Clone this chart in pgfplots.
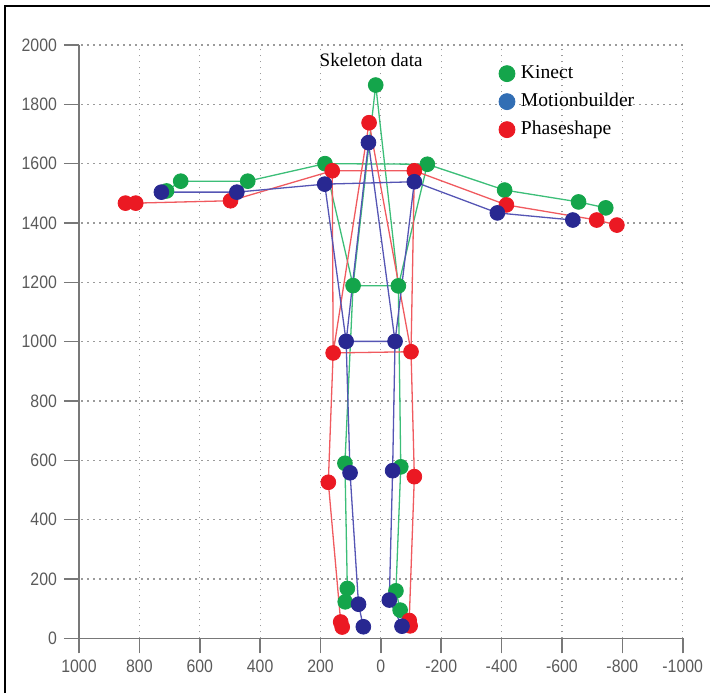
\documentclass[border=0pt]{standalone}
\usepackage{pgfplots}
\pgfplotsset{compat=1.18}
\usepackage{fontspec}
\setmainfont{Liberation Serif}
\newfontfamily\tickfont[FakeStretch=0.88]{Liberation Sans}

\definecolor{kgreen}{RGB}{20,165,75}
\definecolor{kgreenline}{RGB}{60,190,120}
\definecolor{mblue}{RGB}{40,40,145}
\definecolor{mblueline}{RGB}{85,85,180}
\definecolor{mbluelegend}{RGB}{50,110,180}
\definecolor{pred}{RGB}{235,25,35}
\definecolor{predline}{RGB}{240,90,95}
\definecolor{axgray}{RGB}{120,120,120}
\definecolor{ticktext}{RGB}{90,90,90}
\definecolor{gridgray}{RGB}{155,155,155}

\begin{document}
\begin{tikzpicture}
\begin{axis}[
  at={(0,0)}, anchor=south west,
  scale only axis, width=301.85pt, height=296.65pt,
  x dir=reverse,
  xmin=-1000, xmax=1000, ymin=0, ymax=2000,
  xtick={-1000,-800,-600,-400,-200,0,200,400,600,800,1000},
  xticklabels={-1000,-800,-600,-400,-200,0,200,400,600,800,1000},
  ytick={0,200,400,600,800,1000,1200,1400,1600,1800,2000},
  yticklabels={0,200,400,600,800,1000,1200,1400,1600,1800,2000},
  axis x line*=bottom, axis y line*=left,
  axis line style={axgray, line width=0.8pt, -},
  tick align=outside, major tick length=7.5pt,
  tick style={axgray, line width=0.8pt},
  ticklabel style={font=\tickfont\fontsize{9}{10}\selectfont, text=ticktext},
  grid=major,
  grid style={gridgray, line width=0.6pt, dash pattern=on 0.8pt off 2.2pt},
  clip=false,
  unbounded coords=jump,
  legend image code/.code={\draw[#1] plot coordinates {(0pt,0pt)};},
  legend style={draw=none, fill=none, inner sep=0pt, outer sep=0pt,
    at={(0.6957,0.977)}, anchor=north west,
    row sep=-1pt,
    nodes={inner sep=3pt, text height=7pt, text depth=2pt},
    font=\fontsize{9.8}{12}\selectfont},
  legend cell align=left,
]
\addlegendimage{only marks, mark=*, mark size=4pt, color=kgreen}
\addlegendentry{Kinect}
\addlegendimage{only marks, mark=*, mark size=4pt, color=mbluelegend}
\addlegendentry{Motionbuilder}
\addlegendimage{only marks, mark=*, mark size=4pt, color=pred}
\addlegendentry{Phaseshape}

% ---- skeleton lines ----
\addplot[forget plot, kgreenline, line width=0.65pt, no marks] coordinates {
 (710,1508) (663,1541) (441,1541) (185,1600) (-154,1598) (-410,1511) (-655,1471) (-745,1451)
 (nan,nan)
 (185,1600) (92,1189) (119,590) (111,168) (118,123)
 (nan,nan)
 (-154,1598) (-58,1188) (-66,578) (-50,160) (-64,95)
 (nan,nan)
 (92,1189) (17,1865) (-58,1188) (92,1189)
};
\addplot[forget plot, predline, line width=0.65pt, no marks] coordinates {
 (846,1467) (812,1467) (498,1475) (161,1576) (-111,1576) (-416,1461) (-715,1410) (-782,1393)
 (nan,nan)
 (161,1576) (158,962) (174,526) (133,55) (128,38)
 (nan,nan)
 (-111,1576) (-100,966) (-111,545) (-94,60) (-97,42)
 (nan,nan)
 (158,962) (39,1738) (-100,966) (158,962)
};
\addplot[forget plot, mblueline, line width=0.65pt, no marks] coordinates {
 (727,1504) (477,1504) (186,1531) (-111,1539) (-386,1434) (-636,1410)
 (nan,nan)
 (186,1531) (115,1001) (102,558) (74,115) (58,39)
 (nan,nan)
 (-111,1539) (-47,1001) (-39,565) (-28,129) (-70,41)
 (nan,nan)
 (115,1001) (41,1671) (-47,1001) (115,1001)
};

% ---- joints ----
\addplot[forget plot, only marks, mark=*, mark size=3.7pt, color=kgreen] coordinates {
 (17,1865) (185,1600) (-154,1598) (441,1541) (663,1541) (710,1508)
 (-410,1511) (-655,1471) (-745,1451) (92,1189) (-58,1188)
 (119,590) (-66,578) (111,168) (118,123) (-50,160) (-64,95)
};
\addplot[forget plot, only marks, mark=*, mark size=3.7pt, color=pred] coordinates {
 (39,1738) (161,1576) (-111,1576) (498,1475) (812,1467) (846,1467)
 (-416,1461) (-715,1410) (-782,1393) (158,962) (-100,966)
 (174,526) (-111,545) (133,55) (128,38) (-94,60) (-97,42)
};
\addplot[forget plot, only marks, mark=*, mark size=3.7pt, color=mblue] coordinates {
 (41,1671) (186,1531) (-111,1539) (477,1504) (727,1504)
 (-386,1434) (-636,1410) (115,1001) (-47,1001)
 (102,558) (-39,565) (74,115) (58,39) (-28,129) (-70,41)
};

\node[font=\fontsize{9.5}{11}\selectfont, inner sep=0pt] at (axis cs:32,1949) {Skeleton data};
\end{axis}
\pgfresetboundingbox
\useasboundingbox (-39.5pt,-27.35pt) rectangle (315.5pt,319.15pt);
\draw[line width=1pt, black] (-37pt,-27.35pt) -- (-37pt,316.15pt) -- (315.5pt,316.15pt);
\end{tikzpicture}
\end{document}
